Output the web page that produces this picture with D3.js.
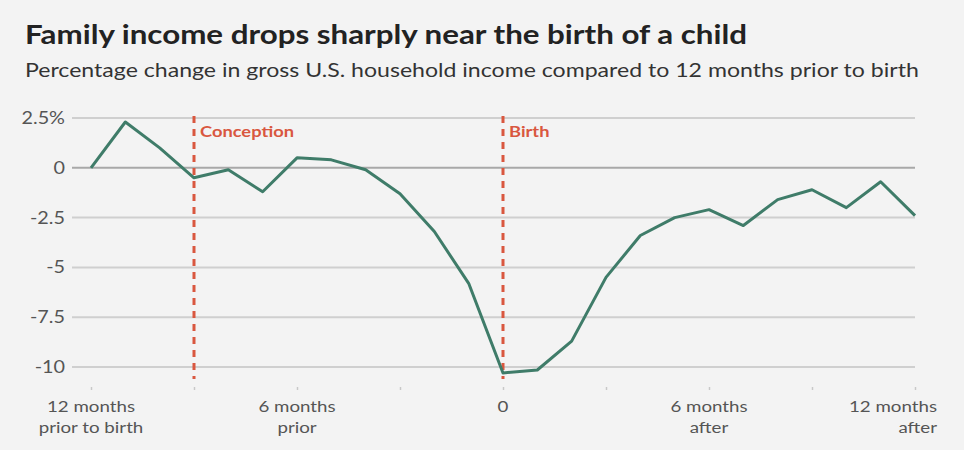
<!DOCTYPE html>
<html>
<head>
<meta charset="utf-8">
<script src="https://cdn.jsdelivr.net/npm/d3@7"></script>
<style>
  body { margin: 0; background: #f3f3f3; }
  svg { display: block; font-family: Lato, "Open Sans", sans-serif; }
</style>
</head>
<body>
<div id="chart"></div>
<script>
// Chart size
const width = 964;
const height = 450;
const margin = { left: 91, right: 49, top: 118, bottom: 83 };

// Months relative to birth and percentage change in income
const months = [-12, -11, -10, -9, -8, -7, -6, -5, -4, -3, -2, -1, 0, 1, 2, 3, 4, 5, 6, 7, 8, 9, 10, 11, 12];
const change = [0, 2.3, 1.0, -0.5, -0.1, -1.2, 0.5, 0.4, -0.1, -1.3, -3.2, -5.8, -10.3, -10.15, -8.7, -5.5, -3.4, -2.5, -2.1, -2.9, -1.6, -1.1, -2.0, -0.7, -2.4];

const yTicks = [2.5, 0, -2.5, -5, -7.5, -10];
const yTickLabels = ["2.5%", "0", "-2.5", "-5", "-7.5", "-10"];
const xTicks = [-12, -9, -6, -3, 0, 3, 6, 9, 12];
const xTickLabels = { "-12": ["12 months", "prior to birth"], "-6": ["6 months", "prior"], "0": ["0"], "6": ["6 months", "after"], "12": ["12 months", "after"] };

// Event markers
const events = [{ month: -9, label: "Conception" }, { month: 0, label: "Birth" }];

// the reference type is a bit wide, so text gets stretched sideways
const place = (px, py, sx) => `translate(${px},${py}) scale(${sx},1)`;

const svg = d3.select("#chart")
  .append("svg")
  .attr("width", width)
  .attr("height", height);

// Title and subtitle
svg.append("text")
  .attr("transform", place(25, 44, 1.16))
  .attr("font-size", 27).attr("font-weight", 700)
  .attr("fill", "#222")
  .text("Family income drops sharply near the birth of a child");

svg.append("text")
  .attr("transform", place(25, 77, 1.185))
  .attr("font-size", 19.5)
  .attr("fill", "#333")
  .text("Percentage change in gross U.S. household income compared to 12 months prior to birth");

// Scales
const x = d3.scaleLinear()
  .domain([-12, 12])
  .range([margin.left, width - margin.right]);

const y = d3.scaleLinear()
  .domain([2.5, -10])
  .range([margin.top, height - margin.bottom]);

// Gridlines
svg.append("g")
  .selectAll("line")
  .data(yTicks)
  .join("line")
  .attr("x1", 72)
  .attr("x2", width - margin.right)
  .attr("y1", d => y(d))
  .attr("y2", d => y(d))
  .attr("stroke", d => d === 0 ? "#a8a8a8" : "#cfcfcf")
  .attr("stroke-width", 2);

// Y labels
svg.append("g")
  .selectAll("text")
  .data(yTicks)
  .join("text")
  .attr("transform", d => place(65, y(d) + 6, 1.2))
  .attr("text-anchor", "end")
  .attr("font-size", 16.5)
  .attr("fill", "#555")
  .text((d, i) => yTickLabels[i]);

// X axis ticks and labels
const xAxis = svg.append("g")
  .attr("transform", `translate(0,${y(-10) + 20})`)
  .call(d3.axisBottom(x).tickValues(xTicks).tickSize(3).tickFormat(""));
xAxis.select(".domain").remove();
xAxis.selectAll(".tick line").attr("stroke", "#c8c8c8").attr("stroke-width", 1.5);

const xLab = svg.append("g")
  .selectAll("text")
  .data(xTicks.filter(d => xTickLabels[d]))
  .join("text")
  .attr("transform", d => place(d === 12 ? x(d) + 22 : x(d), y(-10) + 45, 1.17))
  .attr("text-anchor", d => d === 12 ? "end" : "middle")
  .attr("font-size", 16)
  .attr("fill", "#555");

xLab.selectAll("tspan")
  .data(d => xTickLabels[d])
  .join("tspan")
  .attr("x", 0)
  .attr("dy", (t, i) => i === 0 ? 0 : 21)
  .text(t => t);

// Event lines
svg.append("g")
  .selectAll("line")
  .data(events)
  .join("line")
  .attr("x1", d => x(d.month))
  .attr("x2", d => x(d.month))
  .attr("y1", y(2.5) - 2)
  .attr("y2", y(-10) + 12)
  .attr("stroke", "#d9573f")
  .attr("stroke-width", 3)
  .attr("stroke-dasharray", "7,6");

svg.append("g")
  .selectAll("text")
  .data(events)
  .join("text")
  .attr("transform", d => place(x(d.month) + 6, y(2.5) + 19, 1.22))
  .attr("font-size", 15)
  .attr("font-weight", 700)
  .attr("fill", "#d9573f")
  .text(d => d.label);

// Income line
const line = d3.line()
  .x((d, i) => x(months[i]))
  .y(d => y(d));

svg.append("path")
  .datum(change)
  .attr("fill", "none")
  .attr("stroke", "#3f7c69")
  .attr("stroke-width", 3)
  .attr("stroke-linejoin", "round")
  .attr("d", line);
</script>
</body>
</html>
